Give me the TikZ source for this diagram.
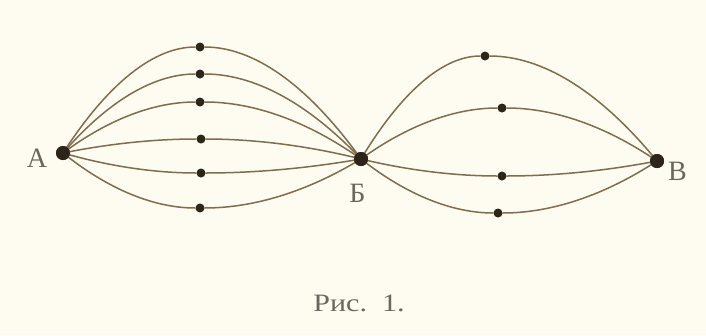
\documentclass[tikz,border=0pt]{standalone}
\usepackage{fontspec}
\setmainfont{Liberation Serif}
\definecolor{bg}{RGB}{254,252,240}
\definecolor{wirec}{RGB}{128,108,78}
\definecolor{dotc}{RGB}{45,36,26}
\definecolor{txtc}{RGB}{105,103,95}
\tikzset{
  wire/.style={draw=wirec,line width=1.5pt},
  smalldot/.style={circle,fill=dotc,inner sep=0pt,minimum size=9pt},
  bigdot/.style={circle,fill=dotc,inner sep=0pt,minimum size=14pt},
  lbl/.style={text=txtc,inner sep=0pt,font=\fontsize{28}{28}\selectfont},
  captiontext/.style={text=txtc,inner sep=0pt,font=\fontsize{25}{25}\selectfont,xscale=1.2}
}
\begin{document}
\begin{tikzpicture}[x=1pt,y=-1pt]
\fill[bg] (0,0) rectangle (706,335);
\useasboundingbox (0,0) rectangle (706,335);
\node[bigdot] (A) at (63,153) {};
\node[bigdot] (B) at (361,159) {};
\node[bigdot] (V) at (657,161) {};
\foreach \i/\mx/\my in {1/200/47,2/200/74,3/200/102,4/201/139,5/201/173,6/200/208} {
  \node[smalldot] (l\i) at (\mx,\my) {};
  \pgfmathsetmacro\ca{(\mx-63)/3}
  \pgfmathsetmacro\cb{2*(\my-153)/3}
  \pgfmathsetmacro\cc{(361-\mx)/3}
  \pgfmathsetmacro\cd{2*(\my-159)/3}
  \draw[wire] (A.center) .. controls +(\ca,\cb) and +(-\ca,0) .. (l\i)
     .. controls +(\cc,0) and +(-\cc,\cd) .. (B.center);
}
\foreach \i/\mx/\my in {1/485/56,2/502/108,3/502/176,4/498/213} {
  \node[smalldot] (r\i) at (\mx,\my) {};
  \pgfmathsetmacro\ca{(\mx-361)/3}
  \pgfmathsetmacro\cb{2*(\my-159)/3}
  \pgfmathsetmacro\cc{(657-\mx)/3}
  \pgfmathsetmacro\cd{2*(\my-161)/3}
  \draw[wire] (B.center) .. controls +(\ca,\cb) and +(-\ca,0) .. (r\i)
     .. controls +(\cc,0) and +(-\cc,\cd) .. (V.center);
}
\node[bigdot] at (A) {};
\node[bigdot] at (B) {};
\node[bigdot] at (V) {};
\node[lbl] (la) at (37,158.5) {А};
\node[lbl] (lb) at (357.5,193.5) {Б};
\node[lbl] (lv) at (677.5,171) {В};
\node[captiontext] (cp) at (359,303) {Рис.\ \ 1.};
\end{tikzpicture}
\end{document}
